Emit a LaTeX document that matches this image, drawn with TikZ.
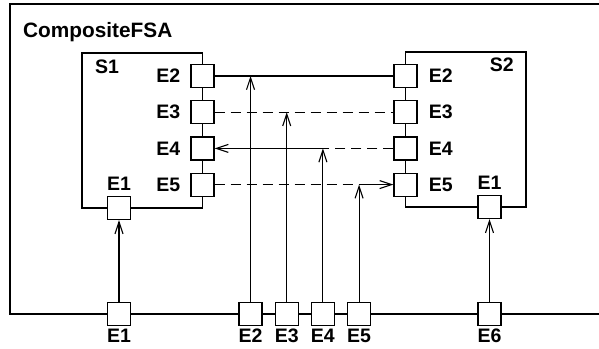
\documentclass[tikz,border=0pt]{standalone}
\usepackage{fontspec}
\setmainfont{Liberation Sans}
\usetikzlibrary{arrows.meta, positioning}

\begin{document}
\begin{tikzpicture}[x=1pt, y=-1pt,
	port/.style={rectangle, draw, line width=1.2pt, fill=white, minimum size=23pt, inner sep=0pt},
	fsabox/.style={draw, line width=1.2pt},
	lbl/.style={inner sep=0pt, font=\fontsize{19.5}{21}\selectfont\bfseries},
	arrow/.style={-{Straight Barb[length=12pt, width=8pt]}, line width=1.1pt},
	dashline/.style={dash pattern=on 10pt off 6pt, line width=1.1pt},
	every node/.style={align=center}
	]
	\useasboundingbox (0,0) rectangle (599,348);
	% composite frame, open to the right
	\draw[line width=1.7pt] (599,4) -- (10,4) -- (10,314) -- (599,314);
	\node[lbl, font=\fontsize{20.8}{23}\selectfont\bfseries, anchor=base west] (title) at (23,37) {CompositeFSA};
	% the two machines
	\draw[fsabox] (82,53) rectangle (202.5,208);
	\draw[fsabox] (405.5,52) rectangle (526,207);
	\node[lbl, anchor=base west] (s1name) at (95,73) {S1};
	\node[lbl, anchor=base east] (s2name) at (514,71) {S2};
	% ports of S1
	\node[port] (s1e2) at (202.5,76) {};
	\node[port, below=12pt of s1e2] (s1e3) {};
	\node[port, below=12pt of s1e3] (s1e4) {};
	\node[port, below=12pt of s1e4] (s1e5) {};
	\node[port] (s1e1) at (119,208) {};
	% ports of S2
	\node[port] (s2e2) at (405.5,76) {};
	\node[port, below=12pt of s2e2] (s2e3) {};
	\node[port, below=12pt of s2e3] (s2e4) {};
	\node[port, below=12pt of s2e4] (s2e5) {};
	\node[port] (s2e1) at (489.5,207) {};
	% ports of the composite
	\node[port] (b1) at (119,314) {};
	\node[port] (b2) at (250.5,314) {};
	\node[port, right=12pt of b2] (b3) {};
	\node[port, right=12pt of b3] (b4) {};
	\node[port, right=12pt of b4] (b5) {};
	\node[port] (b6) at (489.5,314) {};
	% labels
	\foreach \p in {2,...,5} {
		\node[lbl, left=10pt of s1e\p] (l1e\p) {E\p};
		\node[lbl, right=11pt of s2e\p] (l2e\p) {E\p};
		\node[lbl, below=3pt of b\p] (lb\p) {E\p};
	}
	\node[lbl, above=5pt of s1e1] (l1e1) {E1};
	\node[lbl, above=5pt of s2e1] (l2e1) {E1};
	\node[lbl, below=3pt of b1] (lb1) {E1};
	\node[lbl, below=3pt of b6] (lb6) {E6};
	% junctions
	\coordinate (j2) at (b2 |- s1e2);
	\coordinate (j3) at (b3 |- s1e3);
	\coordinate (j4) at (b4 |- s1e4);
	\coordinate (j5) at (b5 |- s1e5);
	% connectors
	\draw[line width=1.1pt] (s1e2) -- (s2e2);
	\draw[dashline] (s1e3) -- (s2e3);
	\draw[dashline] (s2e4) -- (j4);
	\draw[arrow] (j4) -- (s1e4);
	\draw[dashline] (s1e5) -- (j5);
	\draw[arrow] (j5) -- (s2e5);
	\draw[arrow] (b2) -- (j2);
	\draw[arrow] (b3) -- (j3);
	\draw[arrow] (b4) -- (j4);
	\draw[arrow] (b5) -- (j5);
	\draw[arrow] (b1) -- (s1e1);
	\draw[arrow] (b6) -- (s2e1);
\end{tikzpicture}
\end{document}
